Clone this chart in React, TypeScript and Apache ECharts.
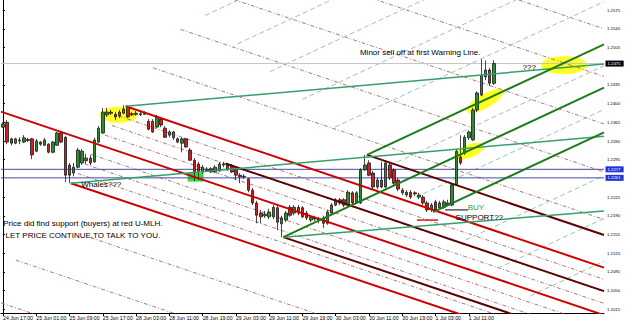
import React, { useEffect, useRef } from 'react';
import * as echarts from 'echarts';

// ---------- DATA ----------
const X_TICK_LABELS = [
  '24 Jun 17:00', '25 Jun 01:00', '25 Jun 09:00', '25 Jun 17:00', '28 Jun 03:00',
  '28 Jun 11:00', '28 Jun 19:00', '29 Jun 03:00', '29 Jun 11:00', '29 Jun 19:00',
  '30 Jun 03:00', '30 Jun 11:00', '30 Jun 19:00', '1 Jul 03:00', '1 Jul 11:00',
];
const BAR_COUNT = 145;
const BARS_PER_LABEL = 8;

const Y_TICKS = [
  1.2015, 1.2050, 1.2085, 1.2120, 1.2155, 1.2190, 1.2225, 1.2295,
  1.2330, 1.2365, 1.2400, 1.2435, 1.2505, 1.2540, 1.2575,
];
const Y_MIN = 1.2008;
const Y_MAX = 1.2594;

// [open, close, low, high], hourly EURUSD
const CANDLES = [
  [1.2356, 1.2362, 1.2354, 1.2365], [1.2365, 1.2328, 1.2324, 1.2369], [1.2334, 1.2326, 1.2322, 1.2336],
  [1.2326, 1.2334, 1.2324, 1.2336], [1.2330, 1.2332, 1.2324, 1.2337], [1.2328, 1.2336, 1.2326, 1.2341],
  [1.2333, 1.2331, 1.2328, 1.2336], [1.2334, 1.2304, 1.2296, 1.2336], [1.2311, 1.2330, 1.2309, 1.2334],
  [1.2328, 1.2324, 1.2321, 1.2330], [1.2322, 1.2332, 1.2321, 1.2336], [1.2324, 1.2309, 1.2307, 1.2326],
  [1.2309, 1.2328, 1.2307, 1.2330], [1.2322, 1.2345, 1.2321, 1.2347], [1.2345, 1.2328, 1.2326, 1.2349],
  [1.2337, 1.2266, 1.2253, 1.2339], [1.2285, 1.2266, 1.2251, 1.2289], [1.2270, 1.2281, 1.2264, 1.2289],
  [1.2281, 1.2313, 1.2279, 1.2317], [1.2289, 1.2311, 1.2285, 1.2315], [1.2293, 1.2298, 1.2287, 1.2306],
  [1.2298, 1.2289, 1.2285, 1.2304], [1.2291, 1.2332, 1.2289, 1.2336], [1.2328, 1.2354, 1.2326, 1.2358],
  [1.2345, 1.2384, 1.2343, 1.2392], [1.2379, 1.2384, 1.2375, 1.2392], [1.2384, 1.2382, 1.2379, 1.2388],
  [1.2380, 1.2375, 1.2369, 1.2384], [1.2377, 1.2384, 1.2373, 1.2388], [1.2382, 1.2390, 1.2380, 1.2397],
  [1.2394, 1.2375, 1.2373, 1.2397], [1.2381, 1.2379, 1.2377, 1.2384], [1.2380, 1.2382, 1.2377, 1.2386],
  [1.2381, 1.2379, 1.2377, 1.2384], [1.2380, 1.2382, 1.2379, 1.2386], [1.2367, 1.2352, 1.2350, 1.2371],
  [1.2367, 1.2347, 1.2345, 1.2371], [1.2356, 1.2375, 1.2354, 1.2379], [1.2371, 1.2360, 1.2356, 1.2375],
  [1.2354, 1.2337, 1.2336, 1.2358], [1.2341, 1.2347, 1.2337, 1.2350], [1.2336, 1.2347, 1.2332, 1.2349],
  [1.2334, 1.2328, 1.2326, 1.2337], [1.2326, 1.2334, 1.2309, 1.2337], [1.2334, 1.2319, 1.2317, 1.2336],
  [1.2313, 1.2294, 1.2293, 1.2317], [1.2294, 1.2270, 1.2255, 1.2298], [1.2287, 1.2272, 1.2257, 1.2291],
  [1.2272, 1.2281, 1.2268, 1.2285], [1.2275, 1.2277, 1.2272, 1.2281], [1.2278, 1.2272, 1.2270, 1.2281],
  [1.2272, 1.2281, 1.2270, 1.2285], [1.2274, 1.2287, 1.2272, 1.2291], [1.2285, 1.2287, 1.2281, 1.2291],
  [1.2285, 1.2276, 1.2274, 1.2289], [1.2283, 1.2272, 1.2270, 1.2287], [1.2276, 1.2266, 1.2257, 1.2279],
  [1.2266, 1.2263, 1.2251, 1.2270], [1.2263, 1.2264, 1.2259, 1.2268], [1.2259, 1.2238, 1.2234, 1.2261],
  [1.2238, 1.2214, 1.2210, 1.2242], [1.2214, 1.2191, 1.2176, 1.2218], [1.2195, 1.2188, 1.2176, 1.2201],
  [1.2190, 1.2193, 1.2186, 1.2199], [1.2188, 1.2197, 1.2184, 1.2203], [1.2188, 1.2206, 1.2184, 1.2210],
  [1.2205, 1.2178, 1.2163, 1.2208], [1.2175, 1.2186, 1.2150, 1.2190], [1.2182, 1.2195, 1.2178, 1.2199],
  [1.2206, 1.2191, 1.2188, 1.2210], [1.2195, 1.2206, 1.2191, 1.2210], [1.2206, 1.2195, 1.2191, 1.2210],
  [1.2205, 1.2188, 1.2186, 1.2208], [1.2195, 1.2186, 1.2182, 1.2199], [1.2182, 1.2188, 1.2178, 1.2191],
  [1.2186, 1.2184, 1.2180, 1.2190], [1.2182, 1.2184, 1.2176, 1.2188], [1.2186, 1.2176, 1.2167, 1.2190],
  [1.2176, 1.2197, 1.2173, 1.2201], [1.2195, 1.2210, 1.2193, 1.2214], [1.2210, 1.2220, 1.2208, 1.2223],
  [1.2220, 1.2214, 1.2210, 1.2223], [1.2220, 1.2210, 1.2206, 1.2223], [1.2210, 1.2234, 1.2208, 1.2238],
  [1.2233, 1.2214, 1.2210, 1.2236], [1.2214, 1.2233, 1.2212, 1.2236], [1.2214, 1.2276, 1.2212, 1.2279],
  [1.2276, 1.2285, 1.2274, 1.2304], [1.2289, 1.2266, 1.2264, 1.2294], [1.2270, 1.2244, 1.2240, 1.2274],
  [1.2244, 1.2257, 1.2240, 1.2261], [1.2257, 1.2244, 1.2242, 1.2291], [1.2244, 1.2289, 1.2242, 1.2294],
  [1.2285, 1.2261, 1.2257, 1.2291], [1.2276, 1.2251, 1.2248, 1.2279], [1.2257, 1.2240, 1.2236, 1.2261],
  [1.2238, 1.2233, 1.2229, 1.2242], [1.2229, 1.2234, 1.2225, 1.2238], [1.2234, 1.2225, 1.2221, 1.2238],
  [1.2233, 1.2231, 1.2227, 1.2236], [1.2225, 1.2229, 1.2221, 1.2233], [1.2225, 1.2214, 1.2210, 1.2229],
  [1.2214, 1.2201, 1.2197, 1.2218], [1.2201, 1.2210, 1.2197, 1.2214], [1.2216, 1.2201, 1.2197, 1.2220],
  [1.2205, 1.2214, 1.2201, 1.2218], [1.2206, 1.2216, 1.2203, 1.2220], [1.2210, 1.2214, 1.2208, 1.2220],
  [1.2210, 1.2248, 1.2208, 1.2251], [1.2248, 1.2311, 1.2246, 1.2315], [1.2300, 1.2289, 1.2285, 1.2341],
  [1.2307, 1.2337, 1.2304, 1.2341], [1.2336, 1.2347, 1.2332, 1.2350], [1.2332, 1.2388, 1.2330, 1.2392],
  [1.2388, 1.2420, 1.2384, 1.2423], [1.2416, 1.2453, 1.2414, 1.2483], [1.2450, 1.2463, 1.2444, 1.2481],
  [1.2463, 1.2438, 1.2433, 1.2467], [1.2438, 1.2475, 1.2435, 1.2481],
];

// Lines: [[barIndex, price], [barIndex, price]]
const RED_FORK = [
  [[-0.5, 1.2385], [144.5, 1.2004]],
  [[29.5, 1.2395], [144.5, 1.2093]],
  [[16.3, 1.2251], [144.5, 1.1915]],
];
const MAROON_LINES = [
  [[87.5, 1.2304], [144.5, 1.2154]],
  [[53.5, 1.2288], [144.5, 1.2049]],
  [[67.4, 1.2150], [144.5, 1.1948]],
];
const GREEN_FORK = [
  [[87.5, 1.2304], [144.5, 1.2511]],
  [[67.4, 1.2150], [144.5, 1.2430]],
  [[103.4, 1.2197], [144.5, 1.2346]],
];
const TEAL_LINES = [
  [[29.5, 1.2395], [144.5, 1.2474]],
  [[16.3, 1.2251], [144.5, 1.2339]],
  [[67.4, 1.2150], [144.5, 1.2199]],
];
const RED_DASHED = [
  [[62.5, 1.2756], [144.5, 1.2540]],
  [[55.9, 1.2683], [144.5, 1.2451]],
  [[49.3, 1.2611], [144.5, 1.2362]],
  [[42.7, 1.2539], [144.5, 1.2272]],
  [[36.1, 1.2467], [144.5, 1.2183]],
  [[27.8, 1.2377], [144.5, 1.2071]],
  [[26.2, 1.2359], [144.5, 1.2048]],
  [[24.5, 1.2341], [144.5, 1.2026]],
  [[21.2, 1.2305], [144.5, 1.1981]],
  [[19.6, 1.2287], [144.5, 1.1959]],
  [[18.0, 1.2269], [144.5, 1.1937]],
  [[21.1, 1.2149], [144.5, 1.1825]],
  [[3.1, 1.2107], [144.5, 1.1736]],
  [[-0.5, 1.2027], [144.5, 1.1646]],
];
const GREEN_DASHED = [
  [[48.6, 1.2565], [144.5, 1.2913]],
  [[56.4, 1.2512], [144.5, 1.2832]],
  [[64.2, 1.2460], [144.5, 1.2752]],
  [[72.0, 1.2408], [144.5, 1.2671]],
  [[79.8, 1.2356], [144.5, 1.2591]],
  [[91.3, 1.2278], [144.5, 1.2471]],
  [[99.3, 1.2225], [144.5, 1.2389]],
  [[111.3, 1.2145], [144.5, 1.2265]],
  [[119.0, 1.2092], [144.5, 1.2185]],
  [[126.8, 1.2040], [144.5, 1.2105]],
];
const BLACK_MARK = [[106.3, 1.2201], [111.8, 1.2201]];
const RED_MARK = [[99.5, 1.2182], [104.6, 1.2182]];

const BID_LEVEL = 1.2475;
const BLUE_LEVELS = [1.2277, 1.2261];
const X_START = -0.5;
const X_END = BAR_COUNT - 0.5;

const ELLIPSE_CENTERS = [
  [27.8, 1.2379],
  [134.9, 1.2472],
  [115.9, 1.2405],
  [112.1, 1.2311],
];
const GREEN_ZONE = [[44.4, 1.2270], [48.2, 1.2254]];

const NOTES = [
  { text: 'Minor sell off at first Warning Line.', at: [85.7, 1.2495] },
  { text: '???', at: [124.8, 1.2468] },
  { text: 'Whales???', at: [18.7, 1.2248] },
  { text: 'SUPPORT??', at: [108.7, 1.2187] },
];
const CENTER_NOTES = [
  { text: 'Price did find support (buyers) at red U-MLH.', at: [19.2, 1.2176] },
  { text: 'LET PRICE CONTINUE.TO TALK TO YOU.', at: [19.2, 1.2154] },
];
const BUY_NOTE = { text: 'BUY', at: [111.6, 1.2206] };

// ---------- CHART ----------
const FONT = 'Liberation Sans, Arial, sans-serif';

function buildOption() {
  const categories = Array.from({ length: BAR_COUNT }, (_, i) =>
    i % BARS_PER_LABEL === 0 && i / BARS_PER_LABEL < X_TICK_LABELS.length
      ? X_TICK_LABELS[i / BARS_PER_LABEL]
      : 'bar' + i
  );
  const showLabel = (idx: number) =>
    idx % BARS_PER_LABEL === 0 && idx / BARS_PER_LABEL < X_TICK_LABELS.length;

  const seg = (pts: any, style: any, z: number) => ({
    type: 'line',
    xAxisIndex: 1,
    yAxisIndex: 0,
    data: pts,
    symbol: 'none',
    showSymbol: false,
    silent: true,
    clip: true,
    z,
    lineStyle: style,
  });

  const priceBox = (v: number, bg: string) => ({
    show: true,
    position: 'right',
    distance: 1,
    formatter: v.toFixed(4),
    color: '#fff',
    backgroundColor: bg,
    fontSize: 4.3,
    padding: [1, 3, 1, 2],
    fontFamily: FONT,
  });

  const series: any[] = [];

  // ellipses + green zone (background)
  series.push({
    type: 'scatter',
    xAxisIndex: 1,
    yAxisIndex: 0,
    silent: true,
    z: 1,
    data: [
      { value: ELLIPSE_CENTERS[0], symbolSize: [38, 16], symbolRotate: 0 },
      { value: ELLIPSE_CENTERS[1], symbolSize: [46, 18], symbolRotate: 0 },
      { value: ELLIPSE_CENTERS[2], symbolSize: [42, 14], symbolRotate: 30 },
      { value: ELLIPSE_CENTERS[3], symbolSize: [32, 13], symbolRotate: 22 },
    ],
    symbol: 'circle',
    itemStyle: { color: '#ffff22', opacity: 1 },
    markArea: {
      silent: true,
      itemStyle: { color: '#2fe02f', opacity: 1 },
      data: [[{ coord: GREEN_ZONE[0] }, { coord: GREEN_ZONE[1] }]],
    },
  });

  RED_DASHED.forEach((l) => series.push(seg(l, { color: '#b27878', width: 1, type: [4, 2, 1, 2] }, 2)));
  GREEN_DASHED.forEach((l) => series.push(seg(l, { color: '#9cc4b0', width: 1, type: [5, 3] }, 2)));

  // horizontal price levels
  series.push(seg([[X_START, BID_LEVEL], [X_END, BID_LEVEL]], { color: '#c4c4c4', width: 1 }, 2));
  BLUE_LEVELS.forEach((v) => series.push(seg([[X_START, v], [X_END, v]], { color: '#4848a8', width: 1 }, 2)));

  series.push({
    type: 'candlestick',
    xAxisIndex: 0,
    yAxisIndex: 0,
    data: CANDLES,
    barWidth: 3,
    z: 3,
    silent: true,
    itemStyle: {
      color: '#2e8b2e',
      color0: '#cc1f1f',
      borderColor: '#1a1a1a',
      borderColor0: '#1a1a1a',
      borderWidth: 0.8,
    },
  });

  RED_FORK.forEach((l) => series.push(seg(l, { color: '#cc0000', width: 2 }, 4)));
  MAROON_LINES.forEach((l) => series.push(seg(l, { color: '#5e0000', width: 2 }, 4)));
  TEAL_LINES.forEach((l) => series.push(seg(l, { color: '#35a06a', width: 1.5 }, 4)));
  GREEN_FORK.forEach((l) => series.push(seg(l, { color: '#1c7c1c', width: 2 }, 4)));
  series.push(seg(RED_MARK, { color: '#cc2020', width: 1.5 }, 4));
  series.push(seg(BLACK_MARK, { color: '#000', width: 1 }, 4));

  // price boxes on the axis
  series.push({
    type: 'scatter',
    xAxisIndex: 1,
    yAxisIndex: 0,
    silent: true,
    clip: false,
    z: 7,
    symbolSize: 1,
    itemStyle: { color: 'rgba(0,0,0,0)', opacity: 1 },
    data: [
      { value: [X_END, BID_LEVEL], label: priceBox(BID_LEVEL, '#000') },
      ...BLUE_LEVELS.map((v) => ({ value: [X_END, v], label: priceBox(v, '#2233dd') })),
    ],
  });

  // text notes
  const noteLabel = { fontSize: 8, lineHeight: 8, color: '#000', fontFamily: FONT };
  series.push({
    type: 'scatter',
    xAxisIndex: 1,
    yAxisIndex: 0,
    silent: true,
    z: 6,
    symbolSize: 1,
    itemStyle: { color: 'rgba(0,0,0,0)', opacity: 1 },
    data: [
      ...NOTES.map((n) => ({
        value: n.at,
        label: { show: true, position: 'right', distance: 0, formatter: n.text, ...noteLabel },
      })),
      ...CENTER_NOTES.map((n) => ({
        value: n.at,
        label: { show: true, position: 'inside', formatter: n.text, ...noteLabel },
      })),
      {
        value: BUY_NOTE.at,
        label: { show: true, position: 'right', distance: 0, formatter: BUY_NOTE.text, ...noteLabel, color: '#3a9a3a' },
      },
    ],
  });

  return {
    animation: false,
    backgroundColor: '#ffffff',
    grid: { left: 0, right: 21, top: 0, bottom: 10, containLabel: false },
    xAxis: [
      {
        type: 'category',
        data: categories,
        boundaryGap: true,
        axisLine: { show: true, lineStyle: { color: '#000', width: 1 } },
        axisTick: { show: true, interval: (i: number) => showLabel(i), alignWithLabel: true, length: 3, lineStyle: { color: '#000' } },
        axisLabel: {
          show: true,
          interval: (i: number) => showLabel(i),
          align: 'left',
          margin: 2,
          fontSize: 5.2,
          color: '#000',
          fontFamily: FONT,
        },
        splitLine: { show: false },
      },
      {
        type: 'value',
        min: X_START,
        max: X_END,
        show: false,
        splitLine: { show: false },
      },
    ],
    yAxis: {
      type: 'value',
      position: 'right',
      min: Y_MIN,
      max: Y_MAX,
      scale: true,
      splitLine: { show: false },
      axisLine: { show: true, lineStyle: { color: '#000', width: 1 } },
      axisTick: { show: true, length: 2, customValues: Y_TICKS, lineStyle: { color: '#000' } },
      axisLabel: {
        show: true,
        customValues: Y_TICKS,
        formatter: (v: number) => v.toFixed(4),
        fontSize: 4.3,
        margin: 3,
        color: '#000',
        fontFamily: FONT,
      },
    },
    series,
  };
}

export default function App() {
  const ref = useRef<HTMLDivElement>(null);
  useEffect(() => {
    if (!ref.current) return;
    const chart = echarts.init(ref.current, undefined, { renderer: 'svg' });
    chart.setOption(buildOption() as any);
    return () => chart.dispose();
  }, []);
  return (
    <div
      ref={ref}
      style={{ position: 'fixed', left: 0, top: 0, width: 625, height: 323, background: '#fff' }}
    />
  );
}
